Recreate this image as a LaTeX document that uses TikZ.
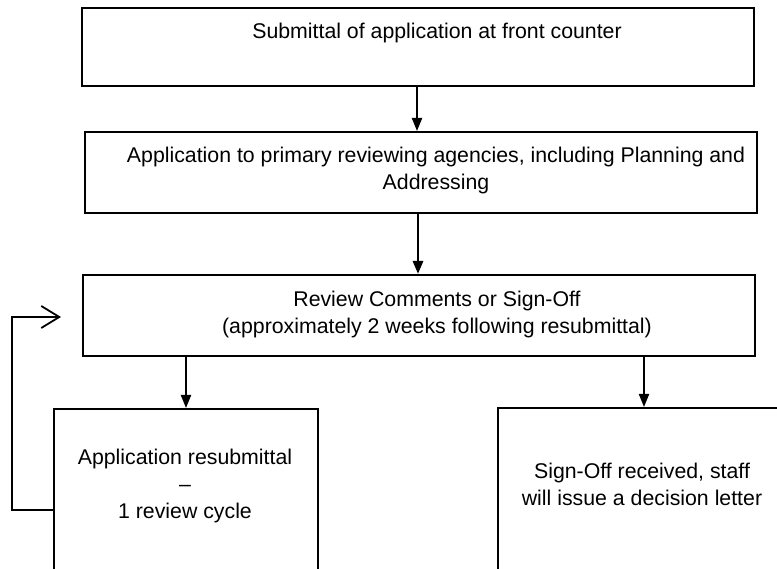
\documentclass[tikz,border=0pt]{standalone}
\usepackage{fontspec}
\setmainfont{Liberation Sans}
\usetikzlibrary{arrows.meta,positioning,calc}
\tikzset{
  stage/.style={draw=black, line width=2pt, rectangle, inner sep=0pt},
  txt/.style={font=\fontsize{21.3pt}{27pt}\selectfont, align=center, inner sep=0pt, anchor=base},
  flow/.style={-{Triangle[length=13pt,width=10pt]}, line width=2pt},
  back/.style={-{Straight Barb[length=18pt,width=22pt]}, line width=1.8pt}
}
\begin{document}
\begin{tikzpicture}[x=1pt,y=-1pt]
  \useasboundingbox (0,0) rectangle (777,569);
  \clip (0,0) rectangle (777,569);
  % boxes
  \node[stage, minimum width=672pt, minimum height=78pt] (submit) at (418,47) {};
  \node[stage, minimum width=672pt, minimum height=81pt] (agencies) at (421,172.5) {};
  \node[stage, minimum width=672pt, minimum height=81pt] (review) at (419,315.5) {};
  \node[stage, minimum width=264pt, minimum height=240pt] (resub) at (186,529) {};
  \node[stage, minimum width=402pt, minimum height=240pt] (signoff) at (699,528) {};
  % texts (anchored at the last baseline)
  \node[txt] (submittxt) at (437,39) {Submittal of application at front counter};
  \node[txt] (agencytxt) at (436,190) {Application to primary reviewing agencies, including Planning and\\Addressing};
  \node[txt] (reviewtxt) at (437,334) {Review Comments or Sign-Off\\(approximately 2 weeks following resubmittal)};
  \node[txt] (resubtxt) at (185,518) {Application resubmittal\\–\\1 review cycle};
  \node[txt] (signtxt) at (642,505) {Sign-Off received, staff\\will issue a decision letter};
  % connectors
  \coordinate (right) at (644,0);
  \draw[flow] ([xshift=-1pt]submit.south) -- ([xshift=-1pt]submit.south |- agencies.north);
  \draw[flow, line width=2.8pt] ([xshift=-3pt]agencies.south) -- ([xshift=-3pt]agencies.south |- review.north);
  \draw[flow] (review.south -| resub.north) -- (resub.north);
  \draw[flow] (review.south -| right) -- (signoff.north -| right);
  \draw[back] ([yshift=19pt]resub.west) -- ++(-41,0) |- ([xshift=-21pt,yshift=-1.5pt]review.west);
\end{tikzpicture}
\end{document}
